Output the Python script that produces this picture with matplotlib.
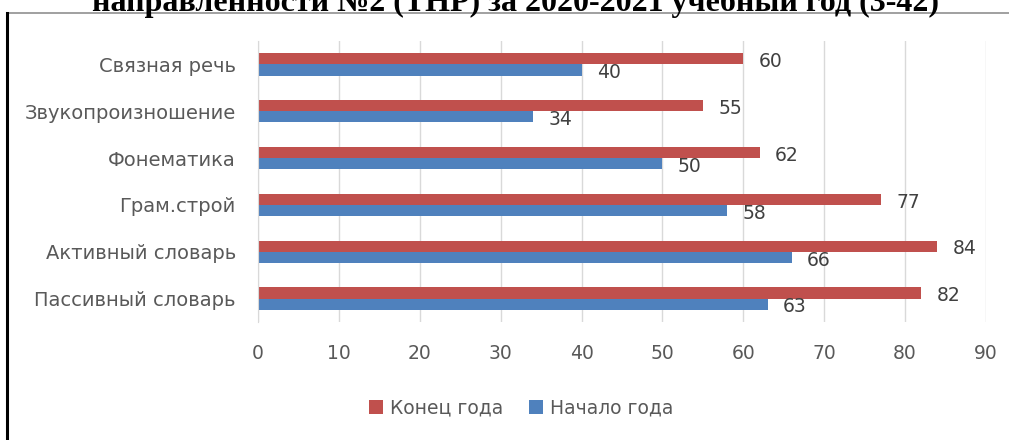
import numpy as np
import matplotlib.pyplot as plt
from matplotlib.lines import Line2D

categories = ['Связная речь', 'Звукопроизношение', 'Фонематика', 'Грам.строй',
              'Активный словарь', 'Пассивный словарь']
end_year = [60, 55, 62, 77, 84, 82]
start_year = [40, 34, 50, 58, 66, 63]

red = '#C0504D'
blue = '#4F81BD'
grey_txt = '#595959'
fs = 13.5

plt.rcParams['font.family'] = ['DejaVu Sans']

W, H = 1009, 440
fig = plt.figure(figsize=(W / 100, H / 100), dpi=100)
ax = fig.add_axes([258 / W, 1 - 322 / H, (986 - 258) / W, (322 - 41) / H])

y = np.arange(len(categories))[::-1]
h = 0.24
ax.barh(y + h / 2, end_year, height=h, color=red, label='Конец года')
ax.barh(y - h / 2, start_year, height=h, color=blue, label='Начало года')

for yi, v in zip(y, end_year):
    ax.annotate(str(v), (v, yi + h / 2), xytext=(11, -2), textcoords='offset points',
                ha='left', va='center', fontsize=fs, color='#404040')
for yi, v in zip(y, start_year):
    ax.annotate(str(v), (v, yi - h / 2), xytext=(11, -2), textcoords='offset points',
                ha='left', va='center', fontsize=fs, color='#404040')

ax.set_xlim(0, 90)
ax.set_ylim(-0.5, len(categories) - 0.5)
ax.set_xticks(range(0, 91, 10))
ax.set_yticks(y)
ax.set_yticklabels(categories)
ax.tick_params(length=0, labelsize=fs, labelcolor=grey_txt)
ax.tick_params(axis='x', pad=16)
ax.tick_params(axis='y', pad=16, labelsize=14)
ax.grid(axis='x', color='#D9D9D9', linewidth=1)
ax.set_axisbelow(True)
for s in ['top', 'right', 'bottom']:
    ax.spines[s].set_visible(False)
ax.spines['left'].set_color('#D9D9D9')

ax.legend(loc='center', bbox_to_anchor=(521 / W, 1 - 408 / H),
          bbox_transform=fig.transFigure, ncol=2, frameon=False,
          fontsize=fs, labelcolor=grey_txt, handlelength=0.75, handleheight=0.75,
          handletextpad=0.35, columnspacing=1.4, borderpad=0)

fig.text(515 / W, 1 - 11 / H, 'направленности №2 (ТНР) за 2020-2021 учебный год (3-42)',
         ha='center', va='baseline', fontsize=23, fontweight='bold',
         family=['Liberation Serif'])

# frame of the embedded chart, cut by the picture edges
fig.add_artist(Line2D([7 / W, 1], [1 - 13 / H, 1 - 13 / H], transform=fig.transFigure,
                      color='#999999', linewidth=1.3))
fig.add_artist(Line2D([7 / W, 7 / W], [0, 1 - 13 / H], transform=fig.transFigure,
                      color='black', linewidth=2.2))

fig.savefig('out.png', dpi=100)
